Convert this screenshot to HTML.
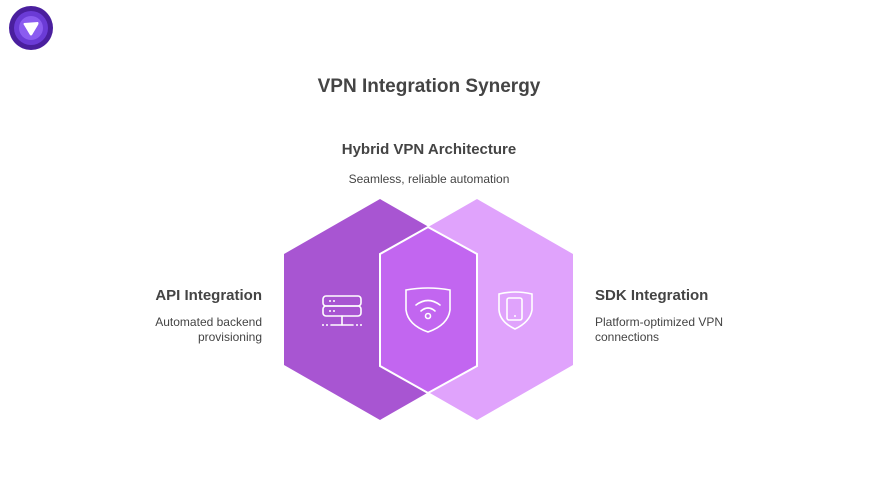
<!DOCTYPE html>
<html><head><style>
body{margin:0;background:#fff;width:876px;height:493px;overflow:hidden;font-family:"Liberation Sans",sans-serif;position:relative}
.t{position:absolute;color:#444;white-space:nowrap}
</style></head><body>
<svg width="876" height="493" style="position:absolute;left:0;top:0">
<circle cx="31" cy="28" r="22" fill="#4a1f9e"/>
<circle cx="31" cy="28" r="17" fill="#6b3bd6"/>
<circle cx="31" cy="28" r="12" fill="#8b5cf0"/>
<path d="M24 23 L38 22 Q39 23 38 25 L32 35 Q31 36 30 35 L24 25 Q23 24 24 23Z" fill="#fff"/>
<polygon points="380,199 476,254 476,365 380,420 284,365 284,254" fill="#A855D2"/>
<polygon points="477,199 573,254 573,365 477,420 381,365 381,254" fill="#E0A3FC"/>
<polygon points="428,227 477,254 477,366 428,393 380,366 380,254" fill="#C266F0" stroke="#fff" stroke-width="2"/>
<g fill="none" stroke="#fff" stroke-width="1.6" stroke-linecap="round">
<rect x="323" y="296" width="38" height="10" rx="3"/>
<rect x="323" y="306" width="38" height="10" rx="3"/>
<line x1="342" y1="316" x2="342" y2="325"/>
<line x1="331" y1="325" x2="353" y2="325"/>
<path d="M406 290 Q428 286 450 290 L450 310 Q448 325 428 332 Q408 325 406 310Z"/>
<path d="M416 305 Q428 296 440 305"/>
<path d="M421 311 Q428 305 435 311"/>
<circle cx="428" cy="316" r="2.5"/>
<path d="M499 294 Q515 290 532 294 L532 310 Q530 322 515 329 Q500 322 499 310Z"/>
<rect x="507" y="298" width="15" height="22" rx="2"/>
</g>
<g fill="#fff"><circle cx="330" cy="301" r="1"/><circle cx="334" cy="301" r="1"/><circle cx="330" cy="311" r="1"/><circle cx="334" cy="311" r="1"/><circle cx="323" cy="325" r="1"/><circle cx="327" cy="325" r="1"/><circle cx="357" cy="325" r="1"/><circle cx="361" cy="325" r="1"/><circle cx="515" cy="316" r="1"/></g>
</svg>
<div class="t" style="left:0;width:858px;text-align:center;top:76px;font-size:19px;font-weight:bold">VPN Integration Synergy</div>
<div class="t" style="left:0;width:858px;text-align:center;top:141px;font-size:15px;font-weight:bold">Hybrid VPN Architecture</div>
<div class="t" style="left:0;width:858px;text-align:center;top:172px;font-size:12px">Seamless, reliable automation</div>
<div class="t" style="right:614px;top:287px;font-size:15px;font-weight:bold;text-align:right">API Integration</div>
<div class="t" style="right:614px;top:315px;font-size:12px;text-align:right;line-height:15px">Automated backend<br>provisioning</div>
<div class="t" style="left:595px;top:287px;font-size:15px;font-weight:bold">SDK Integration</div>
<div class="t" style="left:595px;top:315px;font-size:12px;line-height:15px">Platform-optimized VPN<br>connections</div>
</body></html>
